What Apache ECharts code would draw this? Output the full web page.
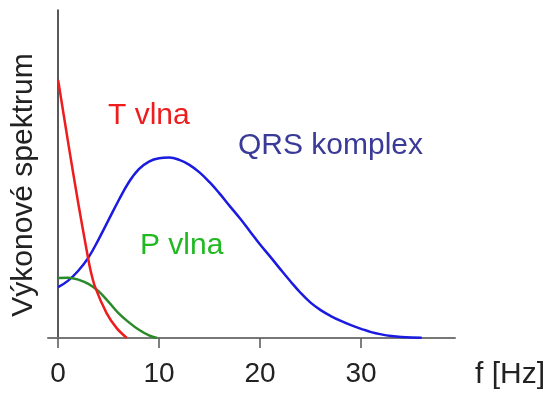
<!DOCTYPE html>
<html>
<head>
<meta charset="utf-8">
<script src="https://cdn.jsdelivr.net/npm/echarts@6/dist/echarts.min.js"></script>
<style>html,body{margin:0;padding:0;background:#fff}#c{width:550px;height:394px}</style>
</head>
<body>
<div id="c"></div>
<script>
var tickValues = [0, 10, 20, 30];
var tFreq = [0, 1, 2, 2.84, 3.2, 3.66, 4.8, 5.8, 6.8];
var tPower = [78.7, 59.5, 41, 26.5, 20.8, 15.6, 7.6, 3, 0];
var qrsFreq = [0, 1, 2, 3, 4, 5, 6, 7, 8, 9, 10, 11, 12, 13, 14, 15, 16, 17, 18, 19, 20, 21, 22, 23, 24, 25, 26, 27, 28, 29, 30, 31, 32, 33, 34, 35, 36];
var qrsPower = [15.5, 17.5, 20.5, 24.5, 30, 36, 42, 47.5, 51.5, 53.8, 54.8, 55, 54.3, 52.8, 50.5, 47.5, 44, 40.2, 36.5, 32.5, 28.5, 24.8, 21, 17.3, 13.8, 10.8, 8.5, 6.7, 5.2, 3.9, 2.8, 1.8, 1.1, 0.6, 0.3, 0.15, 0.1];
var pFreq = [0, 1, 2, 3, 4, 5, 6, 7, 8, 9, 9.8];
var pPower = [18.3, 18.4, 17.8, 16.5, 14.3, 11, 7.5, 4.8, 2.5, 0.8, 0];

function pairs(xs, ys) { return xs.map(function (x, i) { return [x, ys[i]]; }); }

var chart = echarts.init(document.getElementById('c'));
var font = 'Liberation Sans, Arial, sans-serif';
chart.setOption({
  animation: false,
  grid: { left: 48, right: 95, top: 10, bottom: 56 },
  xAxis: {
    type: 'value', min: -1, max: 39.3,
    axisLine: { show: true, onZero: true, lineStyle: { color: '#777', width: 2 } },
    axisTick: { show: true, length: 10, customValues: tickValues, lineStyle: { color: '#555', width: 1.5 } },
    axisLabel: { customValues: tickValues, fontSize: 28, color: '#222', fontFamily: font, margin: 22 },
    splitLine: { show: false }
  },
  yAxis: {
    type: 'value', min: 0, max: 100,
    axisLine: { show: true, onZero: true, lineStyle: { color: '#222', width: 1.5 } },
    axisTick: { show: false }, axisLabel: { show: false }, splitLine: { show: false }
  },
  series: [
    { type: 'line', name: 'QRS', data: pairs(qrsFreq, qrsPower), smooth: 0.4, symbol: 'none', lineStyle: { color: '#1a1ae0', width: 2.5 } },
    { type: 'line', name: 'P', data: pairs(pFreq, pPower), smooth: 0.4, symbol: 'none', lineStyle: { color: '#2a8a2a', width: 2.5 } },
    { type: 'line', name: 'T', data: pairs(tFreq, tPower), smooth: 0.3, symbol: 'none', lineStyle: { color: '#ee1c1c', width: 2.5 } }
  ],
  graphic: [
    { type: 'text', left: 108, top: 101, style: { text: 'T vlna', fill: '#ee1c1c', font: '30px ' + font } },
    { type: 'text', left: 238, top: 131, style: { text: 'QRS komplex', fill: '#3a3a98', font: '30px ' + font } },
    { type: 'text', left: 140, top: 231, style: { text: 'P vlna', fill: '#22b822', font: '30px ' + font } },
    { type: 'text', left: 475, top: 360, style: { text: 'f [Hz]', fill: '#222', font: '30px ' + font } },
    { type: 'text', x: 24, y: 185, rotation: Math.PI / 2, style: { text: 'Výkonové spektrum', fill: '#222', font: '30px ' + font, align: 'center', verticalAlign: 'middle' } }
  ]
});
</script>
</body>
</html>
